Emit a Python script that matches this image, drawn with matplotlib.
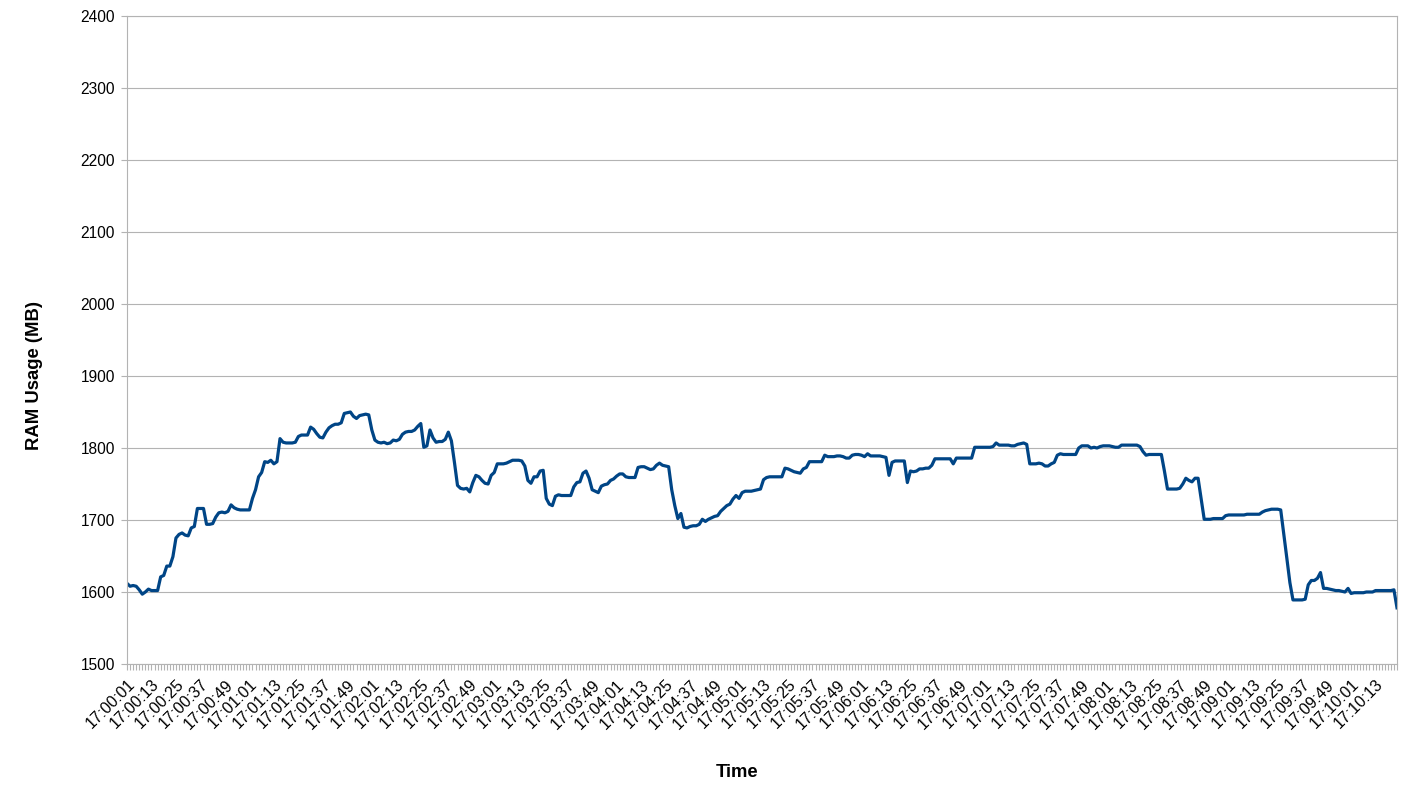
import matplotlib
matplotlib.use("Agg")
import matplotlib.pyplot as plt
from datetime import datetime, timedelta

# RAM usage samples (MB), one every 1.5 s starting 17:00:01
ram_mb = [
    1612, 1608, 1609, 1608, 1603, 1597, 1600, 1604,
    1602, 1602, 1602, 1621, 1623, 1636, 1636, 1649,
    1675, 1680, 1682, 1679, 1678, 1689, 1691, 1716,
    1716, 1716, 1694, 1694, 1695, 1704, 1710, 1711,
    1710, 1712, 1721, 1717, 1715, 1714, 1714, 1714,
    1714, 1730, 1742, 1760, 1766, 1781, 1780, 1783,
    1778, 1781, 1813, 1808, 1807, 1807, 1807, 1808,
    1816, 1818, 1818, 1818, 1829, 1826, 1820, 1815,
    1814, 1822, 1828, 1831, 1833, 1833, 1835, 1848,
    1849, 1850, 1844, 1841, 1845, 1846, 1847, 1846,
    1825, 1811, 1808, 1807, 1808, 1806, 1807, 1811,
    1810, 1812, 1819, 1822, 1823, 1823, 1825, 1830,
    1834, 1801, 1803, 1825, 1814, 1808, 1809, 1809,
    1812, 1822, 1810, 1780, 1748, 1744, 1743, 1744,
    1739, 1752, 1762, 1760, 1755, 1751, 1750, 1762,
    1766, 1778, 1778, 1778, 1779, 1781, 1783, 1783,
    1783, 1782, 1775, 1755, 1751, 1760, 1760, 1768,
    1769, 1730, 1722, 1720, 1733, 1735, 1734, 1734,
    1734, 1734, 1746, 1752, 1753, 1765, 1768, 1758,
    1742, 1740, 1738, 1747, 1749, 1750, 1755, 1757,
    1761, 1764, 1764, 1760, 1759, 1759, 1759, 1773,
    1774, 1774, 1772, 1770, 1771, 1776, 1779, 1776,
    1775, 1774, 1742, 1720, 1702, 1709, 1690, 1689,
    1691, 1692, 1692, 1694, 1701, 1698, 1701, 1703,
    1705, 1706, 1712, 1716, 1720, 1722, 1729, 1734,
    1730, 1738, 1740, 1740, 1740, 1741, 1742, 1743,
    1756, 1759, 1760, 1760, 1760, 1760, 1760, 1772,
    1771, 1769, 1767, 1766, 1765, 1771, 1773, 1781,
    1781, 1781, 1781, 1781, 1790, 1788, 1788, 1788,
    1789, 1789, 1788, 1786, 1786, 1790, 1791, 1791,
    1790, 1788, 1792, 1789, 1789, 1789, 1789, 1788,
    1787, 1762, 1780, 1782, 1782, 1782, 1782, 1752,
    1768, 1767, 1768, 1771, 1771, 1772, 1772, 1776,
    1785, 1785, 1785, 1785, 1785, 1785, 1778, 1786,
    1786, 1786, 1786, 1786, 1786, 1801, 1801, 1801,
    1801, 1801, 1801, 1802, 1807, 1804, 1804, 1804,
    1804, 1803, 1803, 1805, 1806, 1807, 1805, 1778,
    1778, 1778, 1779, 1778, 1775, 1775, 1778, 1780,
    1790, 1792, 1791, 1791, 1791, 1791, 1791, 1800,
    1803, 1803, 1803, 1800, 1801, 1800, 1802, 1803,
    1803, 1803, 1802, 1801, 1801, 1804, 1804, 1804,
    1804, 1804, 1804, 1802, 1795, 1790, 1791, 1791,
    1791, 1791, 1791, 1768, 1743, 1743, 1743, 1743,
    1744, 1750, 1758, 1755, 1753, 1758, 1758, 1730,
    1701, 1701, 1701, 1702, 1702, 1702, 1702, 1706,
    1707, 1707, 1707, 1707, 1707, 1707, 1708, 1708,
    1708, 1708, 1708, 1711, 1713, 1714, 1715, 1715,
    1715, 1714, 1681, 1647, 1613, 1589, 1589, 1589,
    1589, 1590, 1610, 1616, 1616, 1619, 1627, 1605,
    1605, 1604, 1603, 1602, 1602, 1601, 1600, 1605,
    1598, 1599, 1599, 1599, 1599, 1600, 1600, 1600,
    1602, 1602, 1602, 1602, 1602, 1602, 1603, 1578,
]

start = datetime(2020, 1, 1, 17, 0, 1)
times = [(start + timedelta(milliseconds=1500 * i)).strftime("%H:%M:%S")
         for i in range(len(ram_mb))]
label_every = 8
y_ticks = list(range(1500, 2401, 100))

plt.rcParams['font.family'] = ['Liberation Sans', 'DejaVu Sans']

fig = plt.figure(figsize=(14.26, 8.02), dpi=100)
ax = fig.add_axes([127 / 1426, 1 - 664 / 802, 1270 / 1426, 648 / 802])

x = list(range(len(ram_mb)))
ax.plot(x, ram_mb, color='#004586', linewidth=2.3, solid_joinstyle='round')

ax.set_xlim(0, len(ram_mb) - 1)
ax.set_ylim(1500, 2400)
ax.set_yticks(y_ticks)
ax.yaxis.grid(True, color='#b3b3b3', linewidth=0.8)
ax.set_axisbelow(True)

ax.set_xticks(x)
ax.set_xticklabels([t if i % label_every == 0 else '' for i, t in enumerate(times)],
                   rotation=45, ha='right', rotation_mode='anchor')

for s in ax.spines.values():
    s.set_color('#b3b3b3')
    s.set_linewidth(0.8)

ax.tick_params(axis='x', length=4.3, width=0.8, color='#b3b3b3', labelsize=11.5, pad=5)
ax.tick_params(axis='y', length=4.3, width=0.8, color='#b3b3b3', labelsize=11.2, pad=4.3)

fig.text(35 / 1426, 1 - 375 / 802, 'RAM Usage (MB)', rotation=90, fontsize=13.3,
         fontweight='bold', ha='center', va='center')
fig.text(737.5 / 1426, 1 - 777 / 802, 'Time', fontsize=13.3, fontweight='bold',
         ha='center', va='baseline')

fig.savefig('out.png', dpi=100)
